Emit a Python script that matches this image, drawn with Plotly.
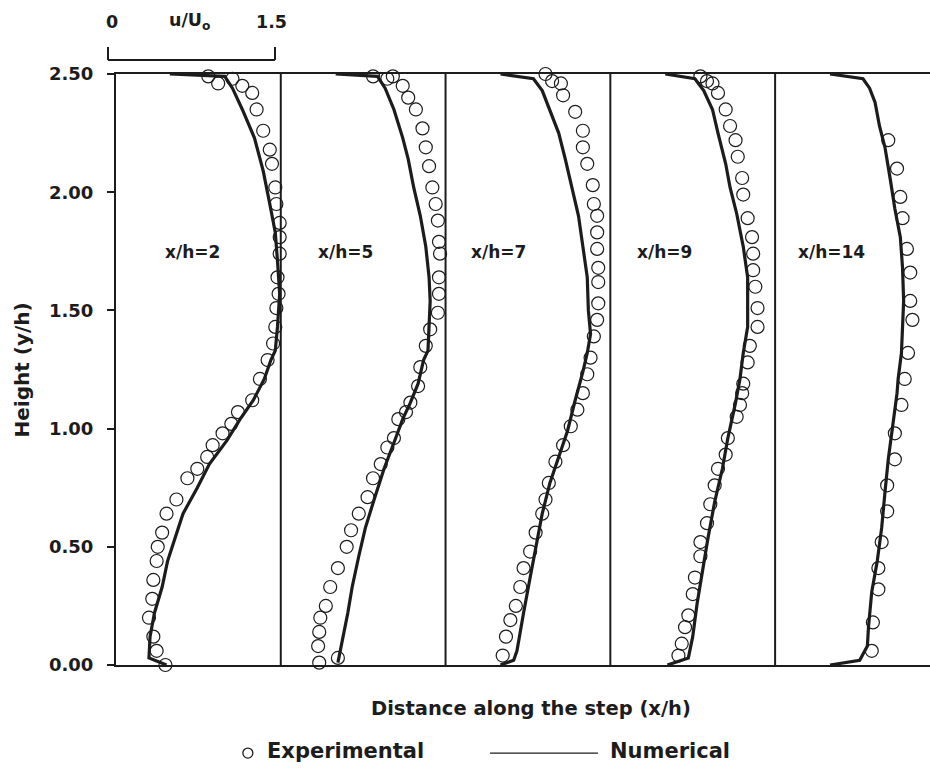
import plotly.graph_objects as go

# Measuring stations along the step (x/h)
stations = [2, 5, 7, 9, 14]
panel_width = 1.5          # each profile panel spans u/Uo = 0 .. 1.5

# ---- Experimental velocity profiles (y/h, u/Uo) ----
exp_y_2 = [2.49, 2.46, 2.48, 2.45, 2.42, 2.35, 2.26, 2.18, 2.12, 2.02, 1.95, 1.87, 1.81, 1.74,
           1.64, 1.57, 1.51, 1.43, 1.36, 1.29, 1.21, 1.12, 1.07, 1.02, 0.98, 0.93, 0.88, 0.83,
           0.79, 0.70, 0.64, 0.56, 0.50, 0.44, 0.36, 0.28, 0.20, 0.12, 0.06, 0.00]
exp_u_2 = [0.84, 0.93, 1.06, 1.15, 1.24, 1.28, 1.34, 1.40, 1.42, 1.45, 1.46, 1.49, 1.49, 1.49,
           1.47, 1.48, 1.46, 1.45, 1.43, 1.38, 1.31, 1.24, 1.11, 1.05, 0.97, 0.88, 0.83, 0.74,
           0.65, 0.55, 0.46, 0.42, 0.38, 0.37, 0.34, 0.33, 0.30, 0.34, 0.37, 0.45]

exp_y_5 = [2.49, 2.48, 2.49, 2.45, 2.40, 2.35, 2.27, 2.19, 2.11, 2.02, 1.95, 1.88, 1.79, 1.74,
           1.64, 1.57, 1.49, 1.42, 1.35, 1.26, 1.18, 1.11, 1.07, 1.04, 0.96, 0.92, 0.85, 0.79,
           0.71, 0.64, 0.57, 0.50, 0.41, 0.33, 0.25, 0.20, 0.14, 0.08, 0.01, 0.03]
exp_u_5 = [0.84, 0.97, 1.02, 1.11, 1.16, 1.23, 1.29, 1.32, 1.35, 1.38, 1.41, 1.43, 1.44, 1.45,
           1.44, 1.44, 1.43, 1.36, 1.32, 1.27, 1.25, 1.18, 1.14, 1.07, 1.03, 0.97, 0.91, 0.84,
           0.79, 0.71, 0.64, 0.60, 0.52, 0.45, 0.41, 0.36, 0.35, 0.34, 0.35, 0.52]

exp_y_7 = [2.50, 2.47, 2.46, 2.41, 2.34, 2.26, 2.19, 2.12, 2.03, 1.95, 1.90, 1.83, 1.76, 1.68,
           1.62, 1.53, 1.46, 1.39, 1.30, 1.23, 1.15, 1.08, 1.01, 0.93, 0.86, 0.77, 0.70, 0.64,
           0.56, 0.48, 0.41, 0.33, 0.25, 0.19, 0.12, 0.04]
exp_u_7 = [0.91, 0.97, 1.05, 1.07, 1.18, 1.25, 1.25, 1.29, 1.34, 1.35, 1.38, 1.38, 1.38, 1.39,
           1.39, 1.39, 1.38, 1.35, 1.32, 1.29, 1.25, 1.20, 1.14, 1.07, 1.00, 0.94, 0.91, 0.88,
           0.82, 0.77, 0.71, 0.68, 0.64, 0.59, 0.55, 0.52]

exp_y_9 = [2.49, 2.47, 2.46, 2.42, 2.35, 2.28, 2.22, 2.15, 2.06, 1.99, 1.89, 1.81, 1.74, 1.67,
           1.60, 1.51, 1.43, 1.35, 1.28, 1.19, 1.15, 1.10, 1.05, 0.96, 0.89, 0.83, 0.76, 0.68,
           0.60, 0.52, 0.46, 0.37, 0.30, 0.21, 0.16, 0.09, 0.04]
exp_u_9 = [0.82, 0.88, 0.93, 0.98, 1.05, 1.09, 1.14, 1.16, 1.20, 1.21, 1.25, 1.29, 1.30, 1.30,
           1.32, 1.34, 1.34, 1.27, 1.25, 1.21, 1.20, 1.18, 1.15, 1.07, 1.05, 0.98, 0.95, 0.91,
           0.88, 0.82, 0.82, 0.77, 0.75, 0.71, 0.68, 0.65, 0.62]

exp_y_14 = [2.22, 2.10, 1.98, 1.89, 1.76, 1.66, 1.54, 1.46, 1.32, 1.21, 1.10, 0.98, 0.87, 0.76,
            0.65, 0.52, 0.41, 0.32, 0.18, 0.06]
exp_u_14 = [1.03, 1.11, 1.14, 1.16, 1.20, 1.23, 1.23, 1.25, 1.21, 1.18, 1.15, 1.09, 1.09, 1.02,
            1.02, 0.97, 0.94, 0.94, 0.89, 0.88]

# ---- Numerical velocity profiles (y/h, u/Uo) ----
num_y_2 = [2.50, 2.49, 2.44, 2.35, 2.23, 2.09, 1.95, 1.83, 1.71, 1.57, 1.43, 1.33, 1.29, 1.21,
           1.12, 1.04, 0.95, 0.85, 0.75, 0.64, 0.54, 0.44, 0.33, 0.22, 0.12, 0.03, 0.00]
num_u_2 = [0.49, 0.99, 1.06, 1.15, 1.26, 1.34, 1.40, 1.45, 1.47, 1.49, 1.47, 1.45, 1.41, 1.35,
           1.25, 1.13, 1.01, 0.85, 0.74, 0.61, 0.54, 0.47, 0.42, 0.35, 0.31, 0.30, 0.46]

num_y_5 = [2.50, 2.49, 2.44, 2.35, 2.23, 2.14, 2.02, 1.90, 1.77, 1.64, 1.54, 1.43, 1.33, 1.29,
           1.19, 1.11, 1.04, 0.94, 0.83, 0.70, 0.58, 0.46, 0.33, 0.22, 0.11, 0.01]
num_u_5 = [0.50, 0.88, 0.95, 1.03, 1.11, 1.16, 1.21, 1.27, 1.32, 1.35, 1.36, 1.35, 1.34, 1.30,
           1.25, 1.18, 1.11, 1.03, 0.94, 0.85, 0.77, 0.71, 0.65, 0.61, 0.56, 0.52]

num_y_7 = [2.50, 2.48, 2.43, 2.35, 2.25, 2.14, 2.02, 1.90, 1.77, 1.64, 1.50, 1.40, 1.32, 1.24,
           1.12, 0.99, 0.88, 0.77, 0.64, 0.50, 0.37, 0.22, 0.06, 0.02, 0.00]
num_u_7 = [0.50, 0.80, 0.88, 0.95, 1.03, 1.09, 1.15, 1.21, 1.25, 1.29, 1.30, 1.32, 1.29, 1.25,
           1.18, 1.11, 1.03, 0.95, 0.88, 0.82, 0.77, 0.71, 0.65, 0.62, 0.50]

num_y_9 = [2.50, 2.48, 2.43, 2.35, 2.25, 2.12, 2.02, 1.91, 1.77, 1.64, 1.54, 1.43, 1.32, 1.21,
           1.11, 0.96, 0.83, 0.69, 0.54, 0.40, 0.26, 0.12, 0.03, 0.00]
num_u_9 = [0.50, 0.77, 0.85, 0.93, 0.98, 1.05, 1.09, 1.15, 1.21, 1.25, 1.25, 1.25, 1.21, 1.18,
           1.14, 1.07, 1.02, 0.95, 0.89, 0.84, 0.79, 0.75, 0.71, 0.52]

num_y_14 = [2.50, 2.48, 2.44, 2.38, 2.28, 2.19, 2.05, 1.93, 1.81, 1.68, 1.54, 1.40, 1.32, 1.21,
            1.15, 1.01, 0.87, 0.73, 0.58, 0.44, 0.31, 0.16, 0.08, 0.02, 0.00]
num_u_14 = [0.50, 0.80, 0.86, 0.91, 0.95, 1.00, 1.05, 1.09, 1.14, 1.16, 1.17, 1.16, 1.15, 1.12,
            1.11, 1.07, 1.03, 1.00, 0.97, 0.93, 0.88, 0.85, 0.84, 0.77, 0.50]

y_ticks = [0.0, 0.5, 1.0, 1.5, 2.0, 2.5]

exp_profiles = [(exp_u_2, exp_y_2), (exp_u_5, exp_y_5), (exp_u_7, exp_y_7),
                (exp_u_9, exp_y_9), (exp_u_14, exp_y_14)]
num_profiles = [(num_u_2, num_y_2), (num_u_5, num_y_5), (num_u_7, num_y_7),
                (num_u_9, num_y_9), (num_u_14, num_y_14)]

INK = "#1c1c1c"
FAMILY = "DejaVu Sans"


def bold(size):
    return dict(family=FAMILY, size=size, color=INK, weight="bold")


# station label placement inside each panel (u/Uo from panel's left edge)
label_offset = [0.43, 0.32, 0.21, 0.22, 0.19]
label_height = 1.745

fig = go.Figure()

for i, st in enumerate(stations):
    x0 = i * panel_width
    nu, ny = num_profiles[i]
    eu, ey = exp_profiles[i]
    fig.add_trace(go.Scatter(
        x=[x0 + u for u in nu], y=ny, mode="lines",
        line=dict(color=INK, width=3.2), cliponaxis=False,
        showlegend=False, hoverinfo="skip"))
    fig.add_trace(go.Scatter(
        x=[x0 + u for u in eu], y=ey, mode="markers",
        marker=dict(symbol="circle-open", size=13, color=INK, line=dict(width=1.2, color=INK)),
        cliponaxis=False, showlegend=False))
    # station label
    fig.add_annotation(x=x0 + label_offset[i], y=label_height, xref="x", yref="y",
                       text=f"x/h={st}", showarrow=False, xanchor="left", yanchor="middle",
                       font=bold(17))
    # panel separator
    if i > 0:
        fig.add_shape(type="line", xref="x", yref="paper", x0=x0, x1=x0, y0=0, y1=1,
                      line=dict(color=INK, width=2), layer="below")

# u/Uo scale bar above the first panel
bar_y, bar_tick = 1.0237, 1.0457
fig.add_shape(type="line", xref="paper", yref="paper", x0=-0.0098, x1=0.1953, y0=bar_y, y1=bar_y,
              line=dict(color=INK, width=2))
for bx in (-0.0098, 0.1953):
    fig.add_shape(type="line", xref="paper", yref="paper", x0=bx, x1=bx, y0=bar_y, y1=bar_tick,
                  line=dict(color=INK, width=2))
for txt, bx in (("0", -0.0045), ("u/U<sub>o</sub>", 0.090), ("1.5", 0.1916)):
    fig.add_annotation(x=bx, y=1.088, xref="paper", yref="paper", text=txt, showarrow=False,
                       xanchor="center", yanchor="middle", font=bold(17.5))

# axis titles
fig.add_annotation(x=0.5098, y=-0.0728, xref="paper", yref="paper",
                   text="Distance along the step (x/h)", showarrow=False,
                   xanchor="center", yanchor="middle", font=bold(19.5))
fig.add_annotation(x=-0.1155, y=0.5, xref="paper", yref="paper", text="Height (y/h)",
                   showarrow=False, textangle=-90, xanchor="center", yanchor="middle",
                   font=bold(20))

# legend row
leg_y_text = -0.1455
leg_y_mark = -0.1490
fig.add_shape(type="circle", xref="paper", yref="paper", xsizemode="pixel", ysizemode="pixel",
              xanchor=0.162, yanchor=leg_y_mark, x0=-5, x1=5, y0=-5, y1=5,
              line=dict(color=INK, width=1.3))
fig.add_annotation(x=0.183, y=leg_y_text, xref="paper", yref="paper", text="Experimental",
                   showarrow=False, xanchor="left", yanchor="middle", font=bold(21))
fig.add_shape(type="line", xref="paper", yref="paper", x0=0.4595, x1=0.5921,
              y0=leg_y_mark, y1=leg_y_mark, line=dict(color=INK, width=1.3))
fig.add_annotation(x=0.6044, y=leg_y_text, xref="paper", yref="paper", text="Numerical",
                   showarrow=False, xanchor="left", yanchor="middle", font=bold(21))

fig.update_xaxes(range=[0, 7.41], showticklabels=False, ticks="", showgrid=False,
                 zeroline=False, showline=True, mirror=True, linecolor=INK, linewidth=2)
fig.update_yaxes(range=[0, 2.5], tickvals=y_ticks, tickformat=".2f", ticks="outside",
                 ticklen=7, tickwidth=1.5, tickcolor=INK, ticklabelstandoff=10,
                 tickfont=bold(18),
                 showgrid=False, zeroline=False, showline=True, linecolor=INK, linewidth=2)

fig.update_layout(width=930, height=774, margin=dict(l=116, r=0, t=74, b=109),
                  plot_bgcolor="white", paper_bgcolor="white", showlegend=False)

fig.write_html("out.html")
